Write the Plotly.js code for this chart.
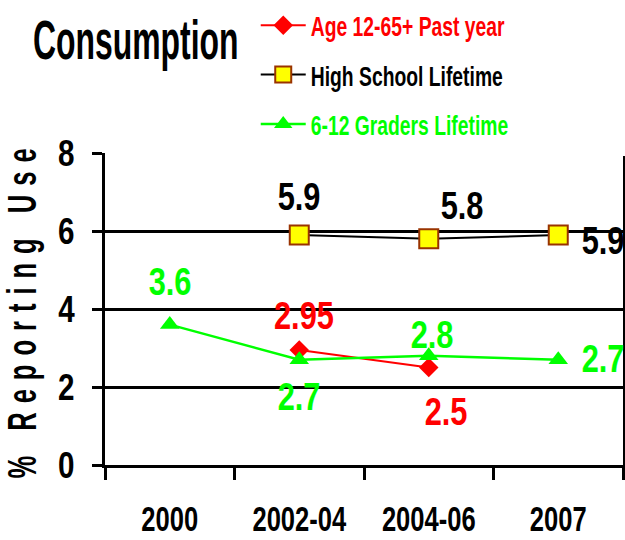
<!DOCTYPE html>
<html><head><meta charset="utf-8">
<script src="https://cdn.plot.ly/plotly-3.0.1.min.js"></script>
<style>html,body{margin:0;padding:0;background:#fff}</style>
</head><body>
<div id="chart" style="width:625px;height:540px"></div>
<script>
// ---- data ----
const categories = ['2000', '2002-04', '2004-06', '2007'];
const titleText = 'Consumption';
const yTitleText = '% Reporting Use';
const yTickValues = [0, 2, 4, 6, 8];

const ageName = 'Age 12-65+ Past year';
const ageValues = [null, 2.95, 2.5, null];

const hsName = 'High School Lifetime';
const hsValues = [null, 5.9, 5.8, 5.9];

const gradersName = '6-12 Graders Lifetime';
const gradersValues = [3.6, 2.7, 2.8, 2.7];

// ---- style ----
const FONT = '"Liberation Sans", Arial, sans-serif';
const RED = '#ff0000', GREEN = '#00ff00', BLACK = '#000000';

const series = [
  {name: ageName, values: ageValues, color: RED, lineColor: RED, lineWidth: 2,
   marker: {symbol: 'diamond', size: 15, color: RED},
   shifts: [null, [5, 34], [17, -44], null]},
  {name: hsName, values: hsValues, color: BLACK, lineColor: BLACK, lineWidth: 2,
   marker: {symbol: 'square', size: 19, color: '#ffff00', line: {color: '#993300', width: 2}},
   shifts: [null, [0, 38], [33, 33], [45, -6]]},
  {name: gradersName, values: gradersValues, color: GREEN, lineColor: GREEN, lineWidth: 2.5,
   marker: {symbol: 'triangle-up', size: 17, color: GREEN},
   shifts: [[0, 43], [0, -37], [3, 21], [45, 1]]}
];

const traces = series.map((s, k) => ({
  type: 'scatter', mode: 'lines+markers',
  x: categories, y: s.values,
  name: '<span style="color:' + s.color + '">' + s.name + '</span>',
  legendgroup: 'g' + k,
  line: {color: s.lineColor, width: s.lineWidth},
  marker: s.marker,
  hoverinfo: 'skip'
}));

// value labels: x given as the category index so that numeric-looking
// category names are not read as numbers
const annotations = [];
series.forEach(s => {
  s.values.forEach((v, i) => {
    if (v === null || !s.shifts[i]) return;
    annotations.push({
      x: i, y: v, xref: 'x', yref: 'y',
      text: String(v), showarrow: false,
      xshift: s.shifts[i][0], yshift: s.shifts[i][1],
      font: {family: FONT, size: 39, color: s.color, weight: 700}
    });
  });
});

const layout = {
  width: 625, height: 540,
  margin: {l: 105, r: 2, t: 152, b: 75, pad: 0},
  paper_bgcolor: '#ffffff', plot_bgcolor: '#ffffff',
  font: {family: FONT, color: BLACK},
  title: {
    text: titleText,
    font: {family: FONT, size: 56, color: BLACK, weight: 700},
    xref: 'container', yref: 'container',
    x: 33 / 625, xanchor: 'left', y: 0.927, yanchor: 'middle'
  },
  showlegend: true,
  legend: {
    x: 0.291, xanchor: 'left', y: 1.484, yanchor: 'top',
    xref: 'paper', yref: 'paper',
    bgcolor: '#ffffff', borderwidth: 0,
    font: {family: FONT, size: 28, color: BLACK, weight: 700},
    tracegroupgap: 10, itemwidth: 45, traceorder: 'grouped'
  },
  shapes: [{
    type: 'rect', xref: 'paper', yref: 'paper', layer: 'above',
    x0: 0.347, x1: 1.02, y0: 0.99, y1: 1.03,
    fillcolor: '#ffffff', line: {width: 0}
  }],
  xaxis: {
    type: 'category', categoryorder: 'array', categoryarray: categories,
    range: [-0.5, 3.5], tickangle: 0,
    showline: true, linecolor: BLACK, linewidth: 3,
    ticks: 'outside', tickson: 'boundaries', ticklen: 12, tickwidth: 3, tickcolor: BLACK,
    showgrid: false, zeroline: false,
    tickfont: {family: FONT, size: 35, color: BLACK, weight: 700},
    ticklabelstandoff: 21
  },
  yaxis: {
    range: [0, 8.001], tickvals: yTickValues,
    showline: true, mirror: true, linecolor: BLACK, linewidth: 3,
    ticks: 'outside', ticklen: 10, tickwidth: 3, tickcolor: BLACK,
    showgrid: true, gridcolor: BLACK, gridwidth: 3, zeroline: false,
    tickfont: {family: FONT, size: 37, color: BLACK, weight: 700},
    ticklabelstandoff: 10,
    title: {text: yTitleText, standoff: 12,
            font: {family: FONT, size: 40, color: BLACK, weight: 700}}
  },
  annotations: annotations
};

// horizontal condensing of glyphs (the reference uses a narrow typeface)
function condense(el, s, anchor) {
  const bb = el.getBBox();
  const cx = anchor === 'left' ? bb.x : anchor === 'right' ? bb.x + bb.width : bb.x + bb.width / 2;
  const prev = el.getAttribute('transform') || '';
  el.setAttribute('transform', prev + ' translate(' + cx + ',0) scale(' + s + ',1) translate(' + (-cx) + ',0)');
}

Plotly.newPlot('chart', traces, layout, {displayModeBar: false, staticPlot: true}).then(gd => {
  gd.querySelectorAll('.gtitle').forEach(el => condense(el, 0.57, 'left'));
  gd.querySelectorAll('.legendtext').forEach(el => condense(el, 0.69, 'left'));
  gd.querySelectorAll('.annotation-text').forEach(el => condense(el, 0.79, 'center'));
  gd.querySelectorAll('.xtick text').forEach(el => condense(el, 0.73, 'center'));
  gd.querySelectorAll('.ytick text').forEach(el => condense(el, 0.8, 'right'));
  gd.querySelectorAll('.ytitle').forEach(el => {
    el.style.letterSpacing = '14px';
    condense(el, 0.64, 'center');
  });
});
</script>
</body></html>
